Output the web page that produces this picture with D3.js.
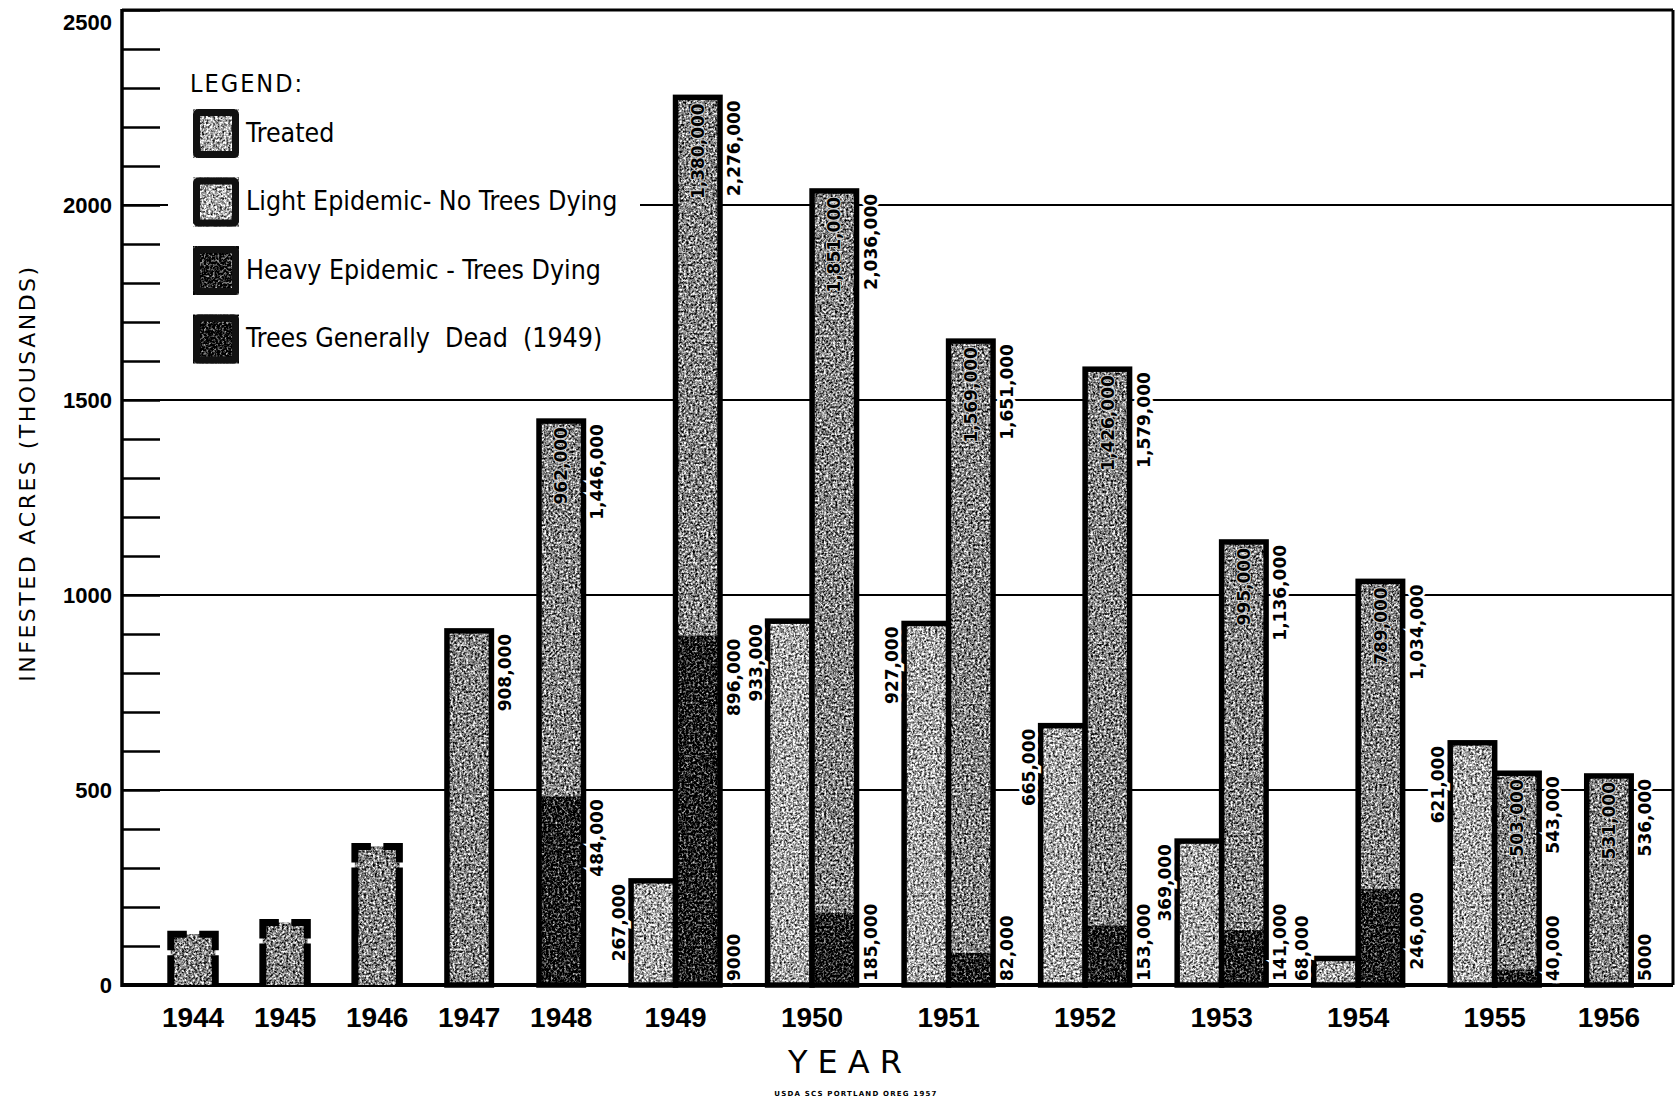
<!DOCTYPE html>
<html lang="en">
<head>
<meta charset="UTF-8">
<script src="https://d3js.org/d3.v7.min.js"></script>
<style>
  body { margin: 0; background: #fff; }
  svg { display: block; }
  .num { font-family: "DejaVu Sans", sans-serif; font-weight: bold; font-size: 17px; }
  .axis text { font-family: "Liberation Sans", Arial, sans-serif; font-weight: bold; font-size: 22px; fill: #000; }
  .axis line { stroke: #000; stroke-width: 2.5; }
</style>
</head>
<body>
<div id="chart"></div>
<script>
// values in thousands of acres
const years = [1944, 1945, 1946, 1947, 1948, 1949, 1950, 1951, 1952, 1953, 1954, 1955, 1956];
const treated = [null, null, null, null, null, 267, 933, 927, 665, 369, 68, 621, null];
const lightEpidemic = [130, 160, 355, 908, 962, 1380, 1851, 1569, 1426, 995, 789, 503, 531];
const heavyEpidemic = [0, 0, 0, 0, 484, 896, 185, 82, 153, 141, 246, 40, 5];
const generallyDead = [0, 0, 0, 0, 0, 9, 0, 0, 0, 0, 0, 0, 0];
const totals = [null, null, null, 908, 1446, 2276, 2036, 1651, 1579, 1136, 1034, 543, 536];
const estimatedYears = [1944, 1945, 1946];
const yTicks = d3.range(0, 2501, 100);
const yLabels = [0, 500, 1000, 1500, 2000, 2500];
const gridValues = [500, 1000, 1500, 2000];
const legendItems = ["Treated", "Light Epidemic- No Trees Dying", "Heavy Epidemic - Trees Dying", "Trees Generally  Dead  (1949)"];

const W = 1678, H = 1102;
const left = 122, right = 1673;
const colors = { treated: "#a6a6a6", light: "#838383", heavy: "#1a1a1a", dead: "#101010" };

const svg = d3.select("#chart").append("svg").attr("width", W).attr("height", H);
svg.append("rect").attr("width", W).attr("height", H).attr("fill", "#fff");

// scanned-paper grain
const defs = svg.append("defs");
const grain = defs.append("filter").attr("id", "grain")
  .attr("x", 0).attr("y", 0).attr("width", 1).attr("height", 1)
  .attr("color-interpolation-filters", "sRGB");
grain.append("feTurbulence").attr("type", "fractalNoise").attr("baseFrequency", 0.45)
  .attr("numOctaves", 3).attr("seed", 4).attr("result", "noise");
grain.append("feColorMatrix").attr("in", "noise").attr("type", "matrix")
  .attr("values", "1 0 0 0 0  1 0 0 0 0  1 0 0 0 0  0 0 0 0 1").attr("result", "gray");
grain.append("feComposite").attr("in", "SourceGraphic").attr("in2", "gray")
  .attr("operator", "arithmetic").attr("k1", 0).attr("k2", 1).attr("k3", 2.0).attr("k4", -1.0)
  .attr("result", "mix");
grain.append("feComposite").attr("in", "mix").attr("in2", "SourceAlpha").attr("operator", "in");

const y = d3.scaleLinear().domain([0, 2500]).range([985, 10]);

// x layout: each year gets a slot sized by how many bars it holds
const barUnits = 1, gapUnits = 1.07;
const nBars = years.map((yr, i) => treated[i] != null ? 2 : 1);
const slotStart = [];
let acc = 0;
nBars.forEach(n => { slotStart.push(acc); acc += n * barUnits + gapUnits; });
const x = d3.scaleLinear().domain([0, acc]).range([147, 1655]);
const bw = x(barUnits) - x(0);
const firstBarX = i => x(slotStart[i] + gapUnits / 2);
const yearCenter = i => x(slotStart[i] + (nBars[i] * barUnits + gapUnits) / 2);

// gridlines
svg.append("g").selectAll("line").data(gridValues).join("line")
  .attr("x1", left).attr("x2", right)
  .attr("y1", d => y(d)).attr("y2", d => y(d))
  .attr("stroke", "#000").attr("stroke-width", 1.8);

// y axis with inward minor ticks
const yAxis = svg.append("g").attr("class", "axis").attr("transform", `translate(${left},0)`)
  .call(d3.axisLeft(y).tickValues(yTicks).tickSize(-38).tickPadding(10)
    .tickFormat(d => yLabels.includes(d) ? d : ""));
yAxis.select(".domain").remove();
yAxis.selectAll(".tick text").filter(d => d === 2500).attr("dy", "0.9em");

// frame
const frame = svg.append("g").attr("stroke", "#000").attr("fill", "none");
frame.append("line").attr("x1", left).attr("x2", right).attr("y1", y(2500)).attr("y2", y(2500)).attr("stroke-width", 3);
frame.append("line").attr("x1", right).attr("x2", right).attr("y1", y(2500)).attr("y2", y(0)).attr("stroke-width", 3);
frame.append("line").attr("x1", left).attr("x2", left).attr("y1", y(2500) - 1).attr("y2", y(0) + 2).attr("stroke-width", 3.5);
frame.append("line").attr("x1", left).attr("x2", right).attr("y1", y(0)).attr("y2", y(0)).attr("stroke-width", 4);

// legend
const legend = svg.append("g");
legend.append("rect").attr("x", 168).attr("y", 55).attr("width", 472).attr("height", 320).attr("fill", "#fff");
legend.append("text").attr("x", 190).attr("y", 92)
  .style("font-family", "'DejaVu Sans Condensed', sans-serif")
  .style("font-size", "25px").style("letter-spacing", "2px").text("LEGEND:");
const legendFills = [colors.treated, "#aaaaaa", colors.heavy, colors.dead];
legendItems.forEach((t, i) => {
  const ly = 109 + i * 68.5;
  legend.append("rect").attr("x", 193).attr("y", ly).attr("width", 46).attr("height", 49)
    .attr("fill", legendFills[i]).attr("filter", "url(#grain)");
  legend.append("rect").attr("x", 196.5).attr("y", ly + 3.5).attr("width", 39).attr("height", 42)
    .attr("fill", "none").attr("stroke", "#111").attr("stroke-width", 7).attr("rx", 2);
  legend.append("text").attr("x", 246).attr("y", ly + 25).attr("dominant-baseline", "middle")
    .style("font-family", "'DejaVu Sans Condensed', sans-serif")
    .style("font-size", "26.5px").style("white-space", "pre").text(t);
});

// bars
const bars = svg.append("g");
const labels = svg.append("g").attr("class", "num");
const fmt = v => v * 1000 >= 10000 ? d3.format(",")(v * 1000) : String(v * 1000);
const capH = 12.4;
const outline = 5.5;

function rotLabel(bx, yTop, text, halo) {
  const t = labels.append("text")
    .attr("text-anchor", "end")
    .attr("transform", `translate(${bx},${yTop}) rotate(-90)`)
    .text(text);
  if (halo) t.attr("stroke", "#fff").attr("stroke-width", 6).attr("paint-order", "stroke");
  else t.attr("stroke", "#d0d0d0").attr("stroke-width", 2).attr("paint-order", "stroke");
  return t;
}
function labelLength(text) {
  const t = labels.append("text").text(text);
  const len = t.node().getComputedTextLength();
  t.remove();
  return len;
}

years.forEach((yr, i) => {
  let bx = firstBarX(i);
  // treated bar on the left
  if (treated[i] != null) {
    bars.append("rect").attr("x", bx).attr("width", bw)
      .attr("y", y(treated[i])).attr("height", y(0) - y(treated[i]))
      .attr("fill", colors.treated).attr("filter", "url(#grain)");
    bars.append("rect").attr("x", bx).attr("width", bw)
      .attr("y", y(treated[i])).attr("height", y(0) - y(treated[i]))
      .attr("fill", "none").attr("stroke", "#000").attr("stroke-width", outline);
    const s = fmt(treated[i]);
    const yTop = Math.min(y(treated[i]) + 3, y(0) - 4 - labelLength(s));
    rotLabel(bx - 6, yTop, s, true);
    bx += bw;
  }
  // infested bar: heavy at the bottom, light on top
  const hv = heavyEpidemic[i], lt = lightEpidemic[i];
  const top = hv + lt;
  bars.append("rect").attr("x", bx).attr("width", bw)
    .attr("y", y(top)).attr("height", y(hv) - y(top))
    .attr("fill", colors.light).attr("filter", "url(#grain)");
  if (hv > 0) {
    bars.append("rect").attr("x", bx).attr("width", bw)
      .attr("y", y(hv)).attr("height", y(0) - y(hv))
      .attr("fill", colors.heavy).attr("filter", "url(#grain)");
  }
  if (generallyDead[i] > 0) {
    bars.append("rect").attr("x", bx).attr("width", bw)
      .attr("y", y(generallyDead[i])).attr("height", y(0) - y(generallyDead[i]))
      .attr("fill", colors.dead);
  }
  if (estimatedYears.includes(yr)) {
    const c = bw * 0.36, g = 5, yt = y(top), yb = y(0);
    bars.append("path")
      .attr("d", `M${bx},${yt + c}L${bx},${yt}L${bx + c},${yt}` +
        `M${bx + bw - c},${yt}L${bx + bw},${yt}L${bx + bw},${yt + c}` +
        `M${bx},${yt + c + g}L${bx},${yb}M${bx + bw},${yt + c + g}L${bx + bw},${yb}`)
      .attr("fill", "none").attr("stroke", "#000").attr("stroke-width", 7);
  } else {
    bars.append("rect").attr("x", bx).attr("width", bw)
      .attr("y", y(top)).attr("height", y(0) - y(top))
      .attr("fill", "none").attr("stroke", "#000").attr("stroke-width", outline);
  }
  const rx = bx + bw + 20;
  if (totals[i] != null) rotLabel(rx, y(top) + 3, fmt(totals[i]), true);
  if (hv > 0) {
    rotLabel(bx + bw / 2 + capH / 2, y(top) + 6, fmt(lt), false);
    const s = fmt(hv);
    const yTop = Math.min(y(hv) + 3, y(0) - 4 - labelLength(s));
    rotLabel(rx, yTop, s, true);
  }
  if (generallyDead[i] > 0) {
    const s = fmt(generallyDead[i]);
    rotLabel(rx, y(0) - 4 - labelLength(s), s, true);
  }
});

// year labels
svg.append("g").selectAll("text").data(years).join("text")
  .attr("x", (d, i) => yearCenter(i)).attr("y", 1020)
  .attr("text-anchor", "middle").attr("dominant-baseline", "middle")
  .style("font-family", "'Liberation Sans', Arial, sans-serif").style("font-weight", "bold")
  .style("font-size", "28px").text(d => d);

// titles
svg.append("text").attr("x", 850).attr("y", 1064).attr("text-anchor", "middle").attr("dominant-baseline", "middle")
  .style("font-family", "'DejaVu Sans', sans-serif").style("font-size", "32px").style("letter-spacing", "10px")
  .text("YEAR");
svg.append("text").attr("transform", "translate(35,473) rotate(-90)").attr("text-anchor", "middle")
  .style("font-family", "'DejaVu Sans', sans-serif").style("font-size", "22px").style("letter-spacing", "2.5px")
  .text("INFESTED ACRES (THOUSANDS)");
svg.append("text").attr("x", 856).attr("y", 1096).attr("text-anchor", "middle")
  .style("font-family", "'DejaVu Sans', sans-serif").style("font-weight", "bold")
  .style("font-size", "7px").style("letter-spacing", "1.2px")
  .text("USDA SCS PORTLAND OREG 1957");
</script>
</body>
</html>
